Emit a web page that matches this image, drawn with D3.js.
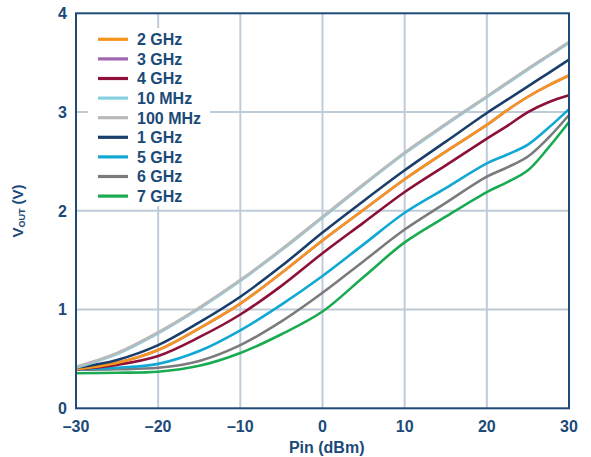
<!DOCTYPE html>
<html><head><meta charset="utf-8">
<script src="https://cdn.jsdelivr.net/npm/d3@7"></script>
<style>body{margin:0;background:#fff}</style>
</head><body>
<svg id="c" width="591" height="457"></svg>
<script>
const pin = [-30,-25,-20,-15,-10,-5,0,5,10,15,20,22.5,25,27.5,30];
const v100MHz = [0.42,0.56,0.77,1.02,1.30,1.61,1.94,2.27,2.59,2.88,3.16,3.30,3.44,3.575,3.71];
const v10MHz  = [0.41,0.55,0.76,1.01,1.29,1.60,1.93,2.26,2.58,2.87,3.15,3.29,3.43,3.565,3.70];
const v1GHz   = [0.41,0.49,0.64,0.87,1.13,1.44,1.78,2.10,2.41,2.70,2.99,3.125,3.26,3.395,3.53];
const v2GHz   = [0.395,0.46,0.59,0.81,1.06,1.37,1.70,2.01,2.32,2.60,2.87,3.02,3.155,3.27,3.37];
const v3GHz   = [0.395,0.46,0.59,0.81,1.06,1.37,1.70,2.01,2.32,2.60,2.87,3.02,3.155,3.27,3.37];
const v4GHz   = [0.395,0.44,0.53,0.72,0.95,1.24,1.57,1.88,2.19,2.46,2.73,2.86,3.0,3.10,3.17];
const v5GHz   = [0.395,0.41,0.45,0.58,0.79,1.05,1.34,1.66,1.98,2.23,2.48,2.57,2.67,2.84,3.03];
const v6GHz   = [0.39,0.395,0.41,0.48,0.64,0.88,1.17,1.49,1.81,2.08,2.345,2.44,2.55,2.74,2.97];
const v7GHz   = [0.355,0.36,0.37,0.43,0.56,0.75,0.98,1.33,1.68,1.94,2.19,2.29,2.41,2.64,2.90];
const legendNames = ["2 GHz","3 GHz","4 GHz","10 MHz","100 MHz","1 GHz","5 GHz","6 GHz","7 GHz"];
const xTicks = [-30,-20,-10,0,10,20,30];
const yTicks = [0,1,2,3,4];

const colors = {"2 GHz":"#f7941d","3 GHz":"#a066b0","4 GHz":"#8c1038","10 MHz":"#86d0e2","100 MHz":"#b9b9b9","1 GHz":"#1a3e6a","5 GHz":"#12a8d4","6 GHz":"#7b7b7d","7 GHz":"#1aab52"};
const seriesVals = {"2 GHz":v2GHz,"3 GHz":v3GHz,"4 GHz":v4GHz,"10 MHz":v10MHz,"100 MHz":v100MHz,"1 GHz":v1GHz,"5 GHz":v5GHz,"6 GHz":v6GHz,"7 GHz":v7GHz};
const drawOrder = ["3 GHz","7 GHz","6 GHz","5 GHz","4 GHz","2 GHz","1 GHz","10 MHz","100 MHz"];

const txt = "#1c4a78", frame = "#1f4b79", grid = "#bfccd8";
const font = "'Liberation Sans', Arial, sans-serif";
const svg = d3.select("#c");
const x = d3.scaleLinear().domain([-30,30]).range([76,569]);
const y = d3.scaleLinear().domain([0,4]).range([408.3,13.3]);

// grid
svg.append("g").selectAll("line").data(xTicks.slice(1,-1)).join("line")
  .attr("x1",d=>x(d)).attr("x2",d=>x(d)).attr("y1",y(0)).attr("y2",y(4))
  .attr("stroke",grid).attr("stroke-width",2);
svg.append("g").selectAll("line").data(yTicks.slice(1,-1)).join("line")
  .attr("y1",d=>y(d)).attr("y2",d=>y(d)).attr("x1",x(-30)).attr("x2",x(30))
  .attr("stroke",grid).attr("stroke-width",2);

// curves
const line = d3.line().x((d,i)=>x(pin[i])).y(d=>y(d)).curve(d3.curveCatmullRom.alpha(0.5));
svg.append("g").selectAll("path").data(drawOrder).join("path")
  .attr("d",k=>line(seriesVals[k])).attr("fill","none")
  .attr("stroke",k=>colors[k]).attr("stroke-width",2.6).attr("stroke-linejoin","round");

// frame
svg.append("rect").attr("x",x(-30)).attr("y",y(4)).attr("width",x(30)-x(-30)).attr("height",y(0)-y(4))
  .attr("fill","none").attr("stroke",frame).attr("stroke-width",2);

// legend
const lg = svg.append("g");
lg.append("rect").attr("x",88).attr("y",28).attr("width",122).attr("height",178).attr("fill","#fff");
const rows = lg.selectAll("g").data(legendNames).join("g")
  .attr("transform",(d,i)=>`translate(0,${39.3+i*19.6})`);
rows.append("line").attr("x1",98).attr("x2",128).attr("stroke",d=>colors[d]).attr("stroke-width",3.2);
rows.append("text").attr("x",137).attr("y",5.8).text(d=>d)
  .attr("fill",txt).attr("font-family",font).attr("font-weight","bold").attr("font-size",16);

// tick labels
svg.append("g").selectAll("text").data(xTicks).join("text")
  .attr("x",d=>x(d)).attr("y",431.5).attr("text-anchor","middle")
  .text(d=>d<0?"\u2013"+Math.abs(d):d)
  .attr("fill",txt).attr("font-family",font).attr("font-weight","bold").attr("font-size",16);
svg.append("g").selectAll("text").data(yTicks).join("text")
  .attr("x",67).attr("y",d=>y(d)+5.7).attr("text-anchor","end").text(d=>d)
  .attr("fill",txt).attr("font-family",font).attr("font-weight","bold").attr("font-size",16);

// axis titles
svg.append("text").attr("x",326.7).attr("y",452.5).attr("text-anchor","middle").text("Pin (dBm)")
  .attr("fill",txt).attr("font-family",font).attr("font-weight","bold").attr("font-size",16);
const yt = svg.append("text").attr("transform","translate(22.5,211) rotate(-90)").attr("text-anchor","middle")
  .attr("fill",txt).attr("font-family",font).attr("font-weight","bold").attr("font-size",15);
yt.append("tspan").text("V");
yt.append("tspan").attr("font-size",9).attr("dy",2).text("OUT");
yt.append("tspan").attr("dy",-2).text(" (V)");
</script>
</body></html>
